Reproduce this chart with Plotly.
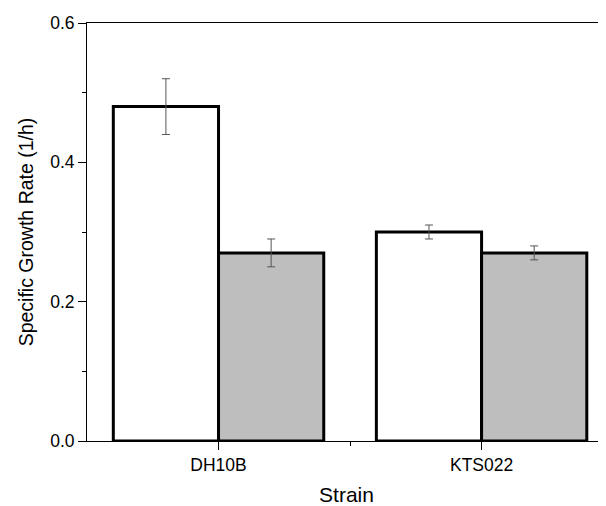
import plotly.graph_objects as go

categories = ["DH10B", "KTS022"]
series_a = [0.48, 0.30]
series_a_err = [0.04, 0.01]
series_b = [0.27, 0.27]
series_b_err = [0.02, 0.01]
y_ticks = [0.0, 0.2, 0.4, 0.6]
y_tick_labels = ["0.0", "0.2", "0.4", "0.6"]

xpos = list(range(len(categories)))

err_style = dict(type="data", visible=True, color="#555555", thickness=1, width=4)

fig = go.Figure()
fig.add_trace(go.Bar(
    x=xpos, y=series_a, name="A",
    marker=dict(color="white", line=dict(color="black", width=3)),
    error_y=dict(array=series_a_err, **err_style),
))
fig.add_trace(go.Bar(
    x=xpos, y=series_b, name="B",
    marker=dict(color="#bebebe", line=dict(color="black", width=3)),
    error_y=dict(array=series_b_err, **err_style),
))

font = dict(family="Liberation Sans, Arial, sans-serif", color="black")

# page body has an 8px margin, so the figure is sized to fill the rest of the window
fig.update_layout(
    width=598, height=498,
    margin=dict(l=79, r=0, t=15, b=65),
    paper_bgcolor="white", plot_bgcolor="white",
    barmode="group", bargap=0.2, bargroupgap=0,
    showlegend=False,
    font=font,
    xaxis=dict(
        range=[-0.5, 1.473],
        tickmode="array", tickvals=xpos, ticktext=categories,
        ticks="outside", ticklen=8, tickwidth=1, tickcolor="black",
        showline=True, linecolor="black", linewidth=1, mirror=True,
        showgrid=False, zeroline=False,
        tickfont=dict(size=17.5, **font),
        title=dict(text="Strain", font=dict(size=21, **font), standoff=13),
        minor=dict(tickmode="array", tickvals=[0.5], ticks="outside", ticklen=4, tickcolor="black", showgrid=False),
    ),
    yaxis=dict(
        range=[0, 0.6],
        tickmode="array", tickvals=y_ticks, ticktext=y_tick_labels,
        ticks="outside", ticklen=8, tickwidth=1, tickcolor="black",
        showline=True, linecolor="black", linewidth=1,
        showgrid=False, zeroline=False,
        tickfont=dict(size=17.5, **font),
        title=dict(text="Specific Growth Rate (1/h)", font=dict(size=19.5, **font), standoff=11),
        minor=dict(tickmode="array", tickvals=[0.1, 0.3, 0.5], ticks="outside", ticklen=4, tickcolor="black", showgrid=False),
    ),
)

fig.write_html("out.html")
